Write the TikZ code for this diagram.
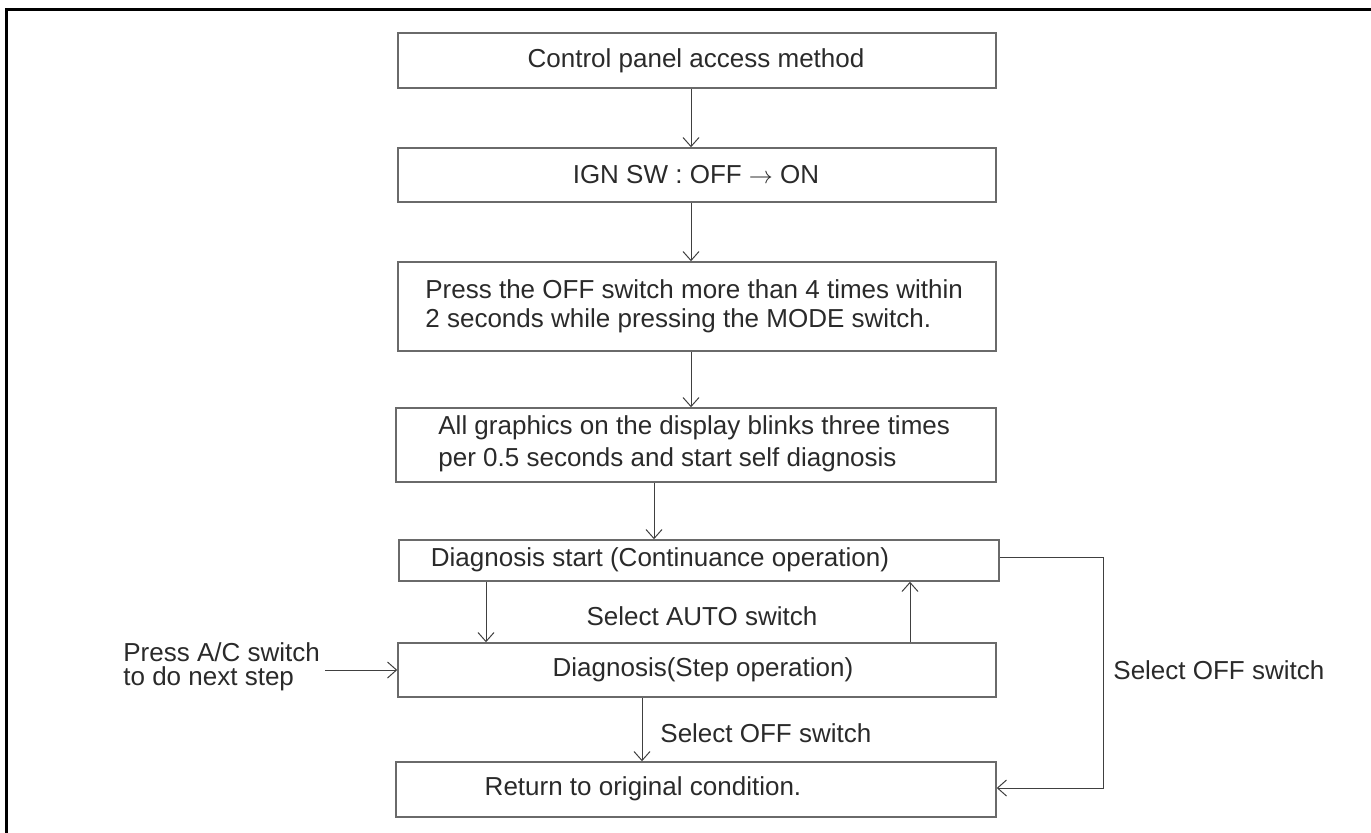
\documentclass[tikz,border=0pt]{standalone}
\usepackage{fontspec}
\setmainfont{Liberation Sans}
\usetikzlibrary{arrows.meta,fit}
\definecolor{boxline}{HTML}{6A6A6A}
\definecolor{txt}{HTML}{2A2A2A}
\begin{document}
\begin{tikzpicture}[x=0.5pt,y=-0.5pt,
  box/.style={draw=boxline,line width=0.75pt,inner sep=0pt,rectangle},
  lbl/.style={inner sep=0pt,text=txt,font=\fontsize{13}{15}\selectfont},
  arr/.style={draw=black!75,line width=0.5pt,-{Straight Barb[length=4.5pt,width=8pt]}},
  conn/.style={draw=black!75,line width=0.5pt}]
\useasboundingbox (0,0) rectangle (1371,832);
\draw[line width=1.5pt] (6,900) -- (6,9) -- (1400,9);
% boxes
\node[box,fit={(398,33)(996,88)}] (b1) {};
\node[box,fit={(398,148)(996,202)}] (b2) {};
\node[box,fit={(398,262)(996,351)}] (b3) {};
\node[box,fit={(396,408)(996,482)}] (b4) {};
\node[box,fit={(399,540)(999,581)}] (b5) {};
\node[box,fit={(398,643)(996,697)}] (b6) {};
\node[box,fit={(396,762)(996,817)}] (b7) {};
% texts
\node[lbl] (t1) at (696,61) {Control panel access method};
\node[lbl] (t2) at (696,175) {IGN SW : OFF \(\rightarrow\) ON};
\node[lbl,anchor=west,align=left,font=\fontsize{13}{14.5}\selectfont] (t3) at (425,306) {Press the OFF switch more than 4 times within\\2 seconds while pressing the MODE switch.};
\node[lbl,anchor=west,align=left,font=\fontsize{13}{16}\selectfont] (t4) at (438,444) {All graphics on the display blinks three times\\per 0.5 seconds and start self diagnosis};
\node[lbl] (t5) at (660,560) {Diagnosis start (Continuance operation)};
\node[lbl] (t6) at (703,670) {Diagnosis(Step operation)};
\node[lbl] (t7) at (643,789) {Return to original condition.};
\node[lbl] (sauto) at (702,616) {Select AUTO switch};
\node[lbl,anchor=west] (soff1) at (660,733) {Select OFF switch};
\node[lbl,anchor=west] (soff2) at (1113,670) {Select OFF switch};
\node[lbl,anchor=west,align=left,font=\fontsize{13}{12}\selectfont] (pac) at (123,667) {Press A/C switch\\to do next step};
% connectors
\draw[arr] (691,0 |- b1.south) -- (691,0 |- b2.north);
\draw[arr] (691,0 |- b2.south) -- (691,0 |- b3.north);
\draw[arr] (691,0 |- b3.south) -- (691,0 |- b4.north);
\draw[arr] (654,0 |- b4.south) -- (654,0 |- b5.north);
\draw[arr] (486,0 |- b5.south) -- (486,0 |- b6.north);
\draw[arr] (910,0 |- b6.north) -- (910,0 |- b5.south);
\draw[arr] (642,0 |- b6.south) -- (642,0 |- b7.north);
\coordinate (loopR1) at (1103,557);
\coordinate (loopR2) at (1103,788);
\draw[arr] (b5.east |- loopR1) -- (loopR1) -- (loopR2) -- (b7.east |- loopR2);
\coordinate (acstart) at (325,670);
\draw[arr] (acstart) -- (b6.west |- acstart);
\end{tikzpicture}
\end{document}
